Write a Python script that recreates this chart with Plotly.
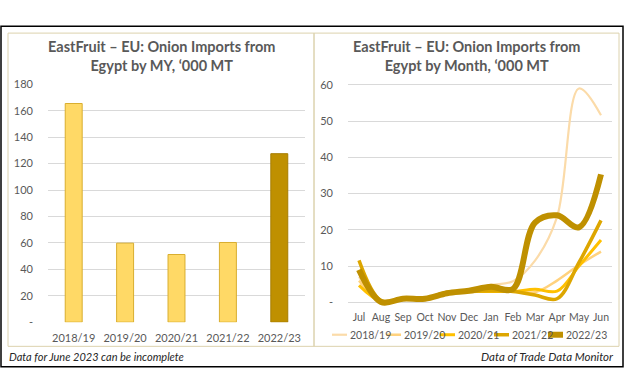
import plotly.graph_objects as go

# ---------------- data ----------------
years = ["2018/19", "2019/20", "2020/21", "2021/22", "2022/23"]
my_totals = [165.5, 59.8, 51.2, 60.3, 127.5]

months = ["Jul", "Aug", "Sep", "Oct", "Nov", "Dec", "Jan", "Feb", "Mar", "Apr", "May", "Jun"]
m_2018_19 = [7.0, 0.5, 1.0, 1.0, 2.5, 3.5, 4.8, 5.8, 11.5, 23.5, 59.0, 51.6]
m_2019_20 = [6.0, 0.5, 1.0, 1.0, 2.5, 3.0, 3.5, 3.2, 2.8, 6.0, 10.3, 14.0]
m_2020_21 = [4.7, 0.3, 0.8, 1.0, 2.5, 3.0, 3.0, 3.0, 3.6, 3.1, 10.0, 17.2]
m_2021_22 = [11.6, 0.5, 1.0, 1.0, 2.8, 3.0, 3.2, 3.0, 2.0, 1.0, 11.0, 22.6]
m_2022_23 = [9.0, 0.1, 1.0, 1.0, 2.5, 3.2, 4.3, 3.7, 22.0, 24.0, 20.7, 35.3]

left_ticks = [0, 20, 40, 60, 80, 100, 120, 140, 160, 180]
left_ticktext = ["-", "20", "40", "60", "80", "100", "120", "140", "160", "180"]
right_ticks = [0, 10, 20, 30, 40, 50, 60]
right_ticktext = ["-", "10", "20", "30", "40", "50", "60"]

# ---------------- styling ----------------
W, H = 626, 391
FONT = "Lato"
GREY = "#595959"
bar_fill = ["#FFD966", "#FFD966", "#FFD966", "#FFD966", "#BF9000"]
bar_line = ["#D9AE2F", "#D9AE2F", "#D9AE2F", "#D9AE2F", "#A67C00"]
line_colors = ["#FBDBA9", "#FFD27E", "#FFC000", "#DDA600", "#BF9000"]
line_widths = [2.2, 2.5, 3.0, 3.5, 6.0]


def px(x):
    return x / W


def py(y):
    return 1 - y / H


fig = go.Figure()

fig.add_trace(go.Bar(
    x=years, y=my_totals, width=0.33,
    marker=dict(color=bar_fill, line=dict(color=bar_line, width=1)),
    xaxis="x", yaxis="y", showlegend=False, hoverinfo="x+y",
))

series = [m_2018_19, m_2019_20, m_2020_21, m_2021_22, m_2022_23]
for name, vals, col, lw in zip(years, series, line_colors, line_widths):
    fig.add_trace(go.Scatter(
        x=months, y=vals, mode="lines", name=name,
        line=dict(color=col, width=lw, shape="spline", smoothing=1.0),
        xaxis="x2", yaxis="y2", showlegend=False,
    ))

tickfont = dict(family=FONT, size=11, color=GREY)
monthfont = dict(family=FONT, size=10.5, color=GREY)

fig.update_layout(
    width=W, height=H, autosize=False,
    margin=dict(l=0, r=0, t=0, b=0),
    paper_bgcolor="white", plot_bgcolor="white",
    font=dict(family=FONT, color=GREY),
    showlegend=False,
    xaxis=dict(domain=[px(48), px(305)], type="category", range=[-0.5, 4.5],
               showgrid=False, zeroline=False, showline=False, ticks="",
               tickfont=tickfont, ticklabelstandoff=8, anchor="y"),
    yaxis=dict(domain=[py(326), py(80)], range=[0, 180], tickvals=left_ticks,
               ticktext=left_ticktext, showgrid=True, gridcolor="#D9D9D9", gridwidth=1,
               zeroline=False, showline=False, ticks="", tickfont=tickfont,
               ticklabelstandoff=14, anchor="x"),
    xaxis2=dict(domain=[px(348), px(612)], type="category", range=[-0.5, 11.5],
                showgrid=False, zeroline=False, showline=False, ticks="",
                tickfont=monthfont, ticklabelstandoff=4, anchor="y2"),
    yaxis2=dict(domain=[py(309.25), py(76.75)], range=[-1, 61], tickvals=right_ticks,
                ticktext=right_ticktext, showgrid=True, gridcolor="#D9D9D9", gridwidth=1,
                zeroline=False, showline=False, ticks="", tickfont=tickfont,
                ticklabelstandoff=14, anchor="x2"),
)

shapes = [
    dict(type="rect", xref="paper", yref="paper", x0=px(1), x1=px(623), y0=py(372), y1=py(20),
         line=dict(color="black", width=1.5), layer="below"),
    dict(type="rect", xref="paper", yref="paper", x0=px(8), x1=px(314), y0=py(351), y1=py(27),
         line=dict(color="#DCD2AE", width=1), layer="below"),
    dict(type="rect", xref="paper", yref="paper", x0=px(314), x1=px(619), y0=py(351), y1=py(27),
         line=dict(color="#DCD2AE", width=1), layer="below"),
]


def ann(text, x, y, size, color=GREY, xanchor="center"):
    return dict(text=text, x=px(x), y=py(y), xref="paper", yref="paper",
                xanchor=xanchor, yanchor="middle", showarrow=False, align="center",
                font=dict(family=FONT, size=size, color=color))


annotations = [
    ann("<b>EastFruit – EU: Onion Imports from<br>Egypt by MY, ‘000 MT</b>", 162, 51, 14.5),
    ann("<b>EastFruit – EU: Onion Imports from<br>Egypt by Month, ‘000 MT</b>", 467, 51, 14.5),
    ann("<i>Data for June 2023 can be incomplete</i>", 7, 362, 11, "#262626", "left"),
    ann("<i>Data of Trade Data Monitor</i>", 616, 362, 11.5, "#262626", "right"),
]

# compact legend for the monthly chart
for i, (name, col, lw) in enumerate(zip(years, line_colors, line_widths)):
    x0 = 332 + 54 * i
    shapes.append(dict(type="line", xref="paper", yref="paper",
                       x0=px(x0), x1=px(x0 + 15), y0=py(339), y1=py(339),
                       line=dict(color=col, width=lw)))
    annotations.append(ann(name, x0 + 15.5, 339, 10.5, GREY, "left"))

fig.update_layout(shapes=shapes, annotations=annotations)

fig.write_html("out.html", config={"displayModeBar": False},
               post_script="document.body.style.margin='0';document.body.style.overflow='hidden';")
